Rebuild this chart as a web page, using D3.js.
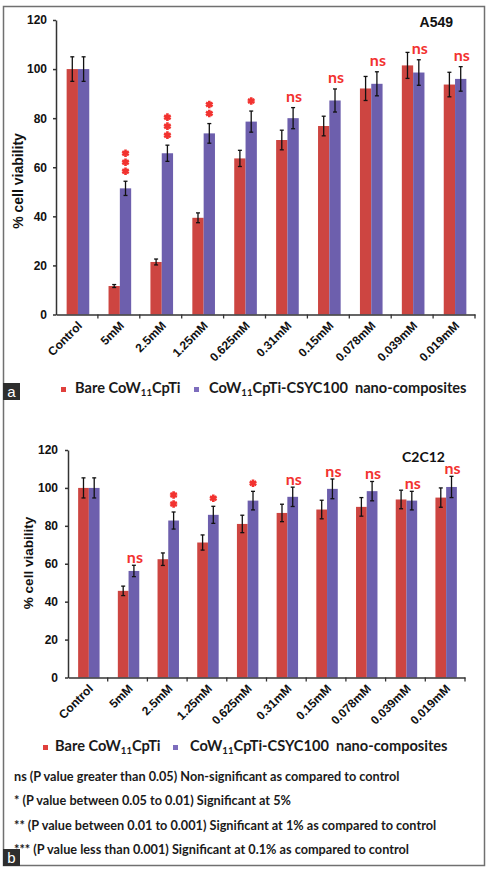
<!DOCTYPE html>
<html>
<head>
<meta charset="utf-8">
<script src="https://cdn.jsdelivr.net/npm/d3@7"></script>
<style>
body{margin:0;background:#fff;}
</style>
</head>
<body>
<svg id="drawing_region"></svg>
<script>
const categories = ["Control","5mM","2.5mM","1.25mM","0.625mM","0.31mM","0.15mM","0.078mM","0.039mM","0.019mM"];
const series = ["bare","csyc"];
const y_ticks = [0,20,40,60,80,100,120];

// A549
const a549_bare = [100, 11.6, 21.4, 39.4, 63.6, 71.1, 76.8, 92.1, 101.5, 93.7];
const a549_bare_err = [5, 0.6, 1.2, 2, 3.3, 4, 4, 4.9, 5.3, 5];
const a549_csyc = [100, 51.4, 65.7, 73.8, 78.6, 80, 87.2, 94, 98.6, 96];
const a549_csyc_err = [5, 2.9, 3.3, 4, 4.3, 4.3, 4.7, 4.9, 5.2, 5];
const a549_sig = ["", "***", "***", "**", "*", "ns", "ns", "ns", "ns", "ns"];

// C2C12
const c2c12_bare = [100, 45.7, 62.4, 71.2, 81, 86.8, 88.6, 90, 93.9, 94.9];
const c2c12_bare_err = [5.3, 2.5, 3.3, 4, 4.6, 4.6, 4.9, 4.9, 4.9, 5.1];
const c2c12_csyc = [100, 56.2, 82.8, 85.8, 93.3, 95.3, 99.5, 98.3, 93.3, 100.5];
const c2c12_csyc_err = [5.3, 3, 4.5, 4.5, 4.9, 5.1, 5.2, 5.1, 4.9, 5.6];
const c2c12_sig = ["", "ns", "**", "*", "*", "ns", "ns", "ns", "ns", "ns"];

const footnotes = [
    "ns (P value greater than 0.05) Non-significant as compared to control",
    "* (P value between 0.05 to 0.01) Significant at 5%",
    "** (P value between 0.01 to 0.001) Significant at 1% as compared to control",
    "*** (P value less than 0.001) Significant at 0.1% as compared to control"
];

const colors = {bare:"#cd4541", csyc:"#6d5fad"};
const sig_color = "#f2322f";
const arial = "'Liberation Sans', Arial, sans-serif";
const calibri = "Lato, 'Open Sans', sans-serif";

const svg = d3.select("#drawing_region")
    .attr("width",489)
    .attr("height",869)

// outer frame
svg.append("rect")
    .attr("x",3.5).attr("y",6.5)
    .attr("width",481).attr("height",859)
    .attr("fill","none")
    .attr("stroke","#707070")
    .attr("stroke-width",1.5)

function make_rows(bare,bare_err,csyc,csyc_err,sig){
    return categories.map((c,i)=>({
        cat:c,
        bare:bare[i], bare_err:bare_err[i],
        csyc:csyc[i], csyc_err:csyc_err[i],
        sig:sig[i]
    }));
}

function legend_label(g,x,y,before,after,size){
    const t = g.append("text")
        .attr("x",x).attr("y",y)
        .attr("font-family",calibri)
        .attr("font-weight","bold")
        .attr("font-size",size+"px")
        .attr("fill","#1a1a1a")
        .attr("xml:space","preserve")
    t.append("tspan").text(before)
    t.append("tspan").attr("dy",3).attr("font-size",(size*0.66)+"px").text("11")
    t.append("tspan").attr("dy",-3).text(after)
}

class BarChart{
    constructor(config,data){
        this.config = config;
        this.data = data;
        this.init();
    }

    init(){
        let self = this;
        const c = self.config;
        self.chart = svg.append("g")

        self.xscale = d3.scaleBand()
            .domain(categories)
            .range([c.left,c.right])
        self.yscale = d3.scaleLinear()
            .domain([0,120])
            .range([c.bottom,c.top])
        const bw = self.xscale.bandwidth();
        self.subscale = d3.scaleBand()
            .domain(series)
            .range([bw/2-bw*0.27+1, bw/2+bw*0.27+1])

        self.yaxis = d3.axisLeft(self.yscale)
            .tickValues(y_ticks)
            .tickSize(3)
            .tickPadding(c.tickPad)
            .tickSizeOuter(0)
        self.xaxis = d3.axisBottom(self.xscale)
            .tickSize(0)
            .tickSizeOuter(0)
            .tickFormat("")
    }

    render(){
        let self = this;
        const c = self.config;
        const x = self.xscale, y = self.yscale, xs = self.subscale;

        const groups = self.chart.selectAll(".grp")
            .data(self.data)
            .enter()
            .append("g")
            .attr("class","grp")
            .attr("transform",d=>`translate(${x(d.cat)},0)`)

        series.forEach(s=>{
            groups.append("rect")
                .attr("x",xs(s))
                .attr("y",d=>y(d[s]))
                .attr("width",xs.bandwidth())
                .attr("height",d=>y(0)-y(d[s]))
                .attr("fill",colors[s])

            const cx = xs(s)+xs.bandwidth()/2;
            groups.append("line")
                .attr("x1",cx).attr("x2",cx)
                .attr("y1",d=>y(d[s]-d[s+"_err"]))
                .attr("y2",d=>y(d[s]+d[s+"_err"]))
                .attr("stroke","#111").attr("stroke-width",1.3)
            ;["-","+"].forEach(sign=>{
                groups.append("line")
                    .attr("x1",cx-2).attr("x2",cx+2)
                    .attr("y1",d=>y(sign=="+"?d[s]+d[s+"_err"]:d[s]-d[s+"_err"]))
                    .attr("y2",d=>y(sign=="+"?d[s]+d[s+"_err"]:d[s]-d[s+"_err"]))
                    .attr("stroke","#111").attr("stroke-width",1.3)
            })
        })

        // significance marks above the composite bar
        const scx = xs("csyc")+xs.bandwidth()/2;
        groups.filter(d=>d.sig=="ns")
            .append("text")
            .attr("x",scx+1)
            .attr("y",d=>y(d.csyc+d.csyc_err)-c.nsGap)
            .attr("text-anchor","middle")
            .attr("font-family",calibri)
            .attr("font-weight","bold")
            .attr("font-size","16px")
            .attr("fill",sig_color)
            .text("ns")
        groups.filter(d=>d.sig.startsWith("*"))
            .each(function(d){
                const top = y(d.csyc+d.csyc_err);
                for(let k=0;k<d.sig.length;k++){
                    d3.select(this).append("path")
                        .attr("d",d3.symbol(d3.symbolAsterisk,40)())
                        .attr("transform",`translate(${scx},${top-c.starGap-9*k})`)
                        .attr("stroke",sig_color)
                        .attr("stroke-width",2.6)
                        .attr("fill","none")
                }
            })

        // axes
        const yg = self.chart.append("g")
            .attr("transform",`translate(${c.left},0)`)
            .call(self.yaxis)
        yg.selectAll("text")
            .attr("font-family",arial)
            .attr("font-weight","bold")
            .attr("font-size","12px")
            .attr("fill","#111")
        yg.selectAll("path,line").attr("stroke","#333").attr("stroke-width",1.5)

        const xg = self.chart.append("g")
            .attr("transform",`translate(0,${c.bottom})`)
            .call(self.xaxis)
        xg.select("path").attr("stroke","#333").attr("stroke-width",1.5)
        xg.selectAll(".bound")
            .data(categories.slice(1).concat(["end"]))
            .enter()
            .append("line")
            .attr("x1",d=>d=="end"?c.right:x(d))
            .attr("x2",d=>d=="end"?c.right:x(d))
            .attr("y1",0).attr("y2",4)
            .attr("stroke","#333").attr("stroke-width",1.3)
        xg.selectAll(".cat")
            .data(categories)
            .enter()
            .append("text")
            .attr("transform",d=>`translate(${x(d)+x.bandwidth()/2+6},${12}) rotate(-45)`)
            .attr("text-anchor","end")
            .attr("font-family",arial)
            .attr("font-weight","bold")
            .attr("font-size","12px")
            .attr("fill","#111")
            .text(d=>d)

        // y title
        self.chart.append("text")
            .attr("transform",`translate(${c.ytitleX},${c.ytitleY}) rotate(-90)`)
            .attr("text-anchor","middle")
            .attr("dominant-baseline","central")
            .attr("font-family",arial)
            .attr("font-weight","bold")
            .attr("font-size",c.ytitleSize+"px")
            .attr("fill","#111")
            .text("% cell viability")

        // cell line label
        self.chart.append("text")
            .attr("x",c.labelX).attr("y",c.labelY)
            .attr("text-anchor","end")
            .attr("font-family",c.labelFont)
            .attr("font-weight","bold")
            .attr("font-size","14px")
            .attr("fill","#111")
            .text(c.label)

        // legend
        const lg = self.chart.append("g")
        lg.append("rect")
            .attr("x",c.legend[0]).attr("y",c.legendY-6)
            .attr("width",5).attr("height",5)
            .attr("fill","#e0403c")
        legend_label(lg,c.legend[1],c.legendY,"Bare CoW","CpTi",14.6)
        lg.append("rect")
            .attr("x",c.legend[2]).attr("y",c.legendY-6)
            .attr("width",5).attr("height",5)
            .attr("fill","#7d6dbd")
        legend_label(lg,c.legend[3],c.legendY,"CoW","CpTi-CSYC100  nano-composites",14.6)
    }
}

const chart_a = new BarChart({
    left:56, right:475, top:20, bottom:314.5,
    tickPad:6, nsGap:6, starGap:10,
    ytitleX:18, ytitleY:181, ytitleSize:14,
    label:"A549", labelX:453, labelY:27, labelFont:arial,
    legend:[61,75,194,209], legendY:393
}, make_rows(a549_bare,a549_bare_err,a549_csyc,a549_csyc_err,a549_sig));
chart_a.render();

const chart_b = new BarChart({
    left:68, right:465, top:450, bottom:677.5,
    tickPad:7, nsGap:2.5, starGap:8,
    ytitleX:28, ytitleY:563, ytitleSize:13.5,
    label:"C2C12", labelX:445, labelY:461.5, labelFont:calibri,
    legend:[43,55,173,190], legendY:751
}, make_rows(c2c12_bare,c2c12_bare_err,c2c12_csyc,c2c12_csyc_err,c2c12_sig));
chart_b.render();

// footnotes
svg.selectAll(".note")
    .data(footnotes)
    .enter()
    .append("text")
    .attr("x",14)
    .attr("y",(d,i)=>781+i*24.4)
    .attr("font-family",calibri)
    .attr("font-weight","bold")
    .attr("font-size","12.7px")
    .attr("fill","#1a1a1a")
    .text(d=>d)

// panel letters
;[["a",383],["b",849]].forEach(p=>{
    svg.append("rect")
        .attr("x",3).attr("y",p[1])
        .attr("width",17).attr("height",17)
        .attr("fill","#2e2e2e")
    svg.append("text")
        .attr("x",11.5).attr("y",p[1]+13.5)
        .attr("text-anchor","middle")
        .attr("font-family",arial)
        .attr("font-size","15px")
        .attr("fill","#fff")
        .text(p[0])
})
</script>
</body>
</html>
